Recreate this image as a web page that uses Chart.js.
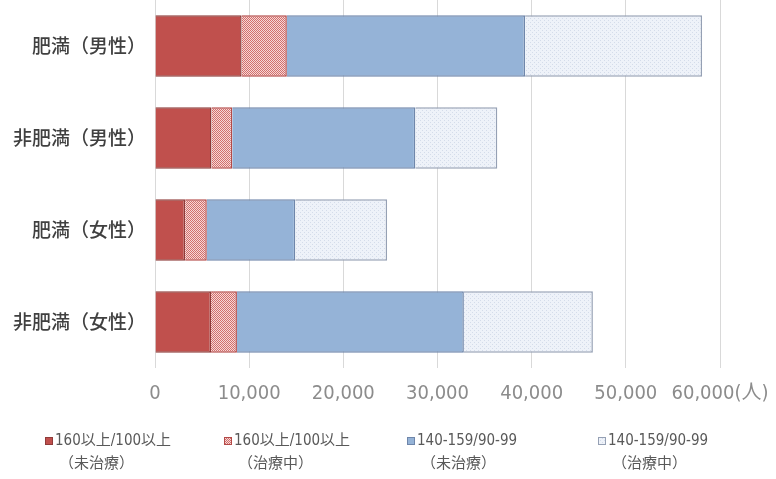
<!DOCTYPE html>
<html lang="ja">
<head>
<meta charset="UTF-8">
<title>肥満・非肥満別 血圧区分</title>
<script src="https://cdn.jsdelivr.net/npm/chart.js"></script>
<style>
    * { margin: 0; padding: 0; box-sizing: border-box; }
    body { background: #fff; width: 776px; height: 479px; overflow: hidden; }
</style>
</head>
<body>
<canvas id="graphique" width="776" height="479"></canvas>

<script>
    // Données (人)
    const categories = ['肥満（男性）', '非肥満（男性）', '肥満（女性）', '非肥満（女性）'];
    const severeUntreated = [9200, 6000, 3200, 5950];   // 160以上/100以上（未治療）
    const severeTreated   = [4800, 2200, 2300, 2750];   // 160以上/100以上（治療中）
    const stage1Untreated = [25300, 19450, 9400, 24100]; // 140-159/90-99（未治療）
    const stage1Treated   = [18800, 8700, 9750, 13700];  // 140-159/90-99（治療中）
    const xTickLabels = ['0', '10,000', '20,000', '30,000', '40,000', '50,000', '60,000(人)'];
    const legendLine1 = ['160以上/100以上', '160以上/100以上', '140-159/90-99', '140-159/90-99'];
    const legendLine2 = ['（未治療）', '（治療中）', '（未治療）', '（治療中）'];

    const narrow = "'Liberation Sans Narrow', 'DejaVu Sans Condensed', 'Noto Sans CJK JP', sans-serif";

    // motifs (hachures Excel)
    function motif(size, fond, points, couleur) {
        const c = document.createElement('canvas');
        c.width = size; c.height = size;
        const g = c.getContext('2d');
        g.fillStyle = fond;
        g.fillRect(0, 0, size, size);
        g.fillStyle = couleur;
        points.forEach(p => g.fillRect(p[0], p[1], 1, 1));
        return g.createPattern(c, 'repeat');
    }
    const damier = motif(2, '#f6d8d7', [[0, 0], [1, 1]], '#d26f6c');
    const pointille = motif(4, '#eef2f9', [[0, 0], [2, 2]], '#d4dcea');

    const legendePlugin = {
        id: 'legendeBas',
        afterDraw(chart) {
            const ctx = chart.ctx;
            const xs = [45, 224, 407, 598];
            ctx.save();
            chart.data.datasets.forEach((ds, i) => {
                const x = xs[i];
                ctx.fillStyle = ds.backgroundColor;
                ctx.fillRect(x, 437, 8, 8);
                ctx.strokeStyle = ds.borderColor;
                ctx.lineWidth = 1;
                ctx.strokeRect(x + 0.5, 437.5, 7, 7);
                ctx.fillStyle = '#595959';
                ctx.textBaseline = 'middle';
                ctx.textAlign = 'left';
                ctx.font = "15px " + narrow;
                ctx.fillText(legendLine1[i], x + 10, 441);
                ctx.fillText(legendLine2[i], x + 14, 464);
            });
            ctx.restore();
        }
    };

    const ctx = document.getElementById('graphique').getContext('2d');
    new Chart(ctx, {
        type: 'bar',
        data: {
            labels: categories,
            datasets: [
                { label: legendLine1[0] + legendLine2[0], data: severeUntreated,
                  backgroundColor: '#c0504d', borderColor: '#8f3b39', borderWidth: 1.5 },
                { label: legendLine1[1] + legendLine2[1], data: severeTreated,
                  backgroundColor: damier, borderColor: '#b34a48', borderWidth: 1.5 },
                { label: legendLine1[2] + legendLine2[2], data: stage1Untreated,
                  backgroundColor: '#95b3d7', borderColor: '#6f86aa', borderWidth: 1.5 },
                { label: legendLine1[3] + legendLine2[3], data: stage1Treated,
                  backgroundColor: pointille, borderColor: '#95a0b4', borderWidth: 1.5 }
            ]
        },
        options: {
            indexAxis: 'y',
            responsive: false,
            animation: false,
            devicePixelRatio: 1,
            layout: { padding: { top: 0, right: 56, bottom: 0, left: 0 } },
            datasets: { bar: { barPercentage: 0.67, categoryPercentage: 1 } },
            plugins: { legend: { display: false }, tooltip: { enabled: false } },
            scales: {
                x: {
                    stacked: true,
                    min: 0,
                    max: 60000,
                    ticks: {
                        stepSize: 10000,
                        padding: 14,
                        maxRotation: 0,
                        minRotation: 0,
                        autoSkip: false,
                        color: '#8c8c8c',
                        font: { size: 20, family: narrow },
                        callback: (v, i) => xTickLabels[i]
                    },
                    grid: { color: '#d9d9d9', drawTicks: false },
                    border: { display: false },
                    afterFit: s => { s.height = 111; s.paddingLeft = 0; s.paddingRight = 0; }
                },
                y: {
                    stacked: true,
                    ticks: {
                        padding: 9,
                        color: '#404040',
                        font: { size: 19, family: "'Noto Sans CJK JP', sans-serif", weight: '500' }
                    },
                    grid: { display: false, drawTicks: false },
                    border: { display: false },
                    afterFit: s => { s.width = 155; s.paddingTop = 0; s.paddingBottom = 0; }
                }
            }
        },
        plugins: [legendePlugin]
    });
</script>
</body>
</html>
